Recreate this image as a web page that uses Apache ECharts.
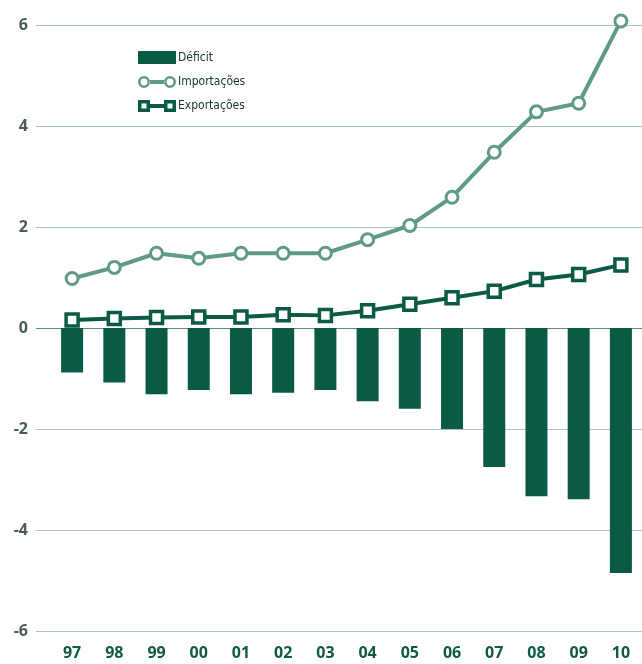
<!DOCTYPE html>
<html><head><meta charset="utf-8">
<script src="https://cdn.jsdelivr.net/npm/echarts@6/dist/echarts.min.js"></script>
<style>html,body{margin:0;padding:0;background:#fff}#c{width:642px;height:664px}</style>
</head><body><div id="c"></div>
<script>
var years = ['97','98','99','00','01','02','03','04','05','06','07','08','09','10'];
var deficit = [-0.88,-1.08,-1.31,-1.23,-1.31,-1.28,-1.23,-1.45,-1.60,-2.00,-2.75,-3.33,-3.39,-4.85];
var importacoes = [0.98,1.20,1.48,1.38,1.48,1.48,1.48,1.75,2.03,2.59,3.48,4.28,4.45,6.08];
var exportacoes = [0.16,0.19,0.21,0.22,0.22,0.26,0.25,0.34,0.47,0.60,0.73,0.96,1.06,1.25];
var yTicks = [-6,-4,-2,0,2,4,6];

var dark = '#0b5a45', teal = '#5f9a88', gridC = '#abc5bd';
var ringPath = 'path://M0,6A6,6 0 1,0 12,6A6,6 0 1,0 0,6ZM2.6,6A3.4,3.4 0 1,1 9.4,6A3.4,3.4 0 1,1 2.6,6ZM26,6A6,6 0 1,0 38,6A6,6 0 1,0 26,6ZM28.6,6A3.4,3.4 0 1,1 35.4,6A3.4,3.4 0 1,1 28.6,6ZM11.5,4L26.5,4L26.5,8L11.5,8Z';
var sqPath = 'path://M0,0L0,12L12,12L12,0ZM3.5,3.5L8.5,3.5L8.5,8.5L3.5,8.5ZM26,0L26,12L38,12L38,0ZM29.5,3.5L34.5,3.5L34.5,8.5L29.5,8.5ZM12,4L26,4L26,8L12,8Z';

var chart = echarts.init(document.getElementById('c'));
chart.setOption({
  animation: false,
  backgroundColor: '#fff',
  grid: [
    {left: 36, right: 0, top: 25, bottom: 33},
    {left: 51, right: -4, top: 25, bottom: 33}
  ],
  legend: {
    orient: 'vertical', left: 133, top: 46,
    itemWidth: 38, itemHeight: 13, itemGap: 12,
    textStyle: {fontFamily: '"Liberation Sans Narrow","DejaVu Sans Condensed",sans-serif', fontSize: 12, color: '#17352c', padding: [0,0,0,-3]},
    data: [
      {name: 'Déficit', icon: 'rect', itemStyle: {color: dark, borderWidth: 0}},
      {name: 'Importações', icon: ringPath, itemStyle: {color: teal, borderWidth: 0}},
      {name: 'Exportações', icon: sqPath, itemStyle: {color: dark, borderWidth: 0}}
    ]
  },
  xAxis: [
    {gridIndex: 0, type: 'value', min: 0, max: 1, show: false},
    {gridIndex: 1, type: 'category', data: years, boundaryGap: true,
     axisLine: {show: false}, axisTick: {show: false}, splitLine: {show: false},
     axisLabel: {margin: 14, fontFamily: '"Open Sans",sans-serif', fontWeight: 'bold', fontSize: 16, color: '#0e5a45'}}
  ],
  yAxis: [
    {gridIndex: 0, type: 'value', min: -6, max: 6, interval: 2,
     axisLine: {show: false}, axisTick: {show: false},
     axisLabel: {margin: 8, fontFamily: '"Open Sans",sans-serif', fontWeight: 'bold', fontSize: 16, color: '#4b5b56'},
     splitLine: {show: true, lineStyle: {width: 1, color: [gridC, gridC, gridC, '#5f8a7e', gridC, gridC, gridC]}}},
    {gridIndex: 1, type: 'value', min: -6, max: 6, interval: 2, show: false, splitLine: {show: false}}
  ],
  series: [
    {name: 'Déficit', type: 'bar', xAxisIndex: 1, yAxisIndex: 1, data: deficit, barWidth: 22,
     itemStyle: {color: dark}},
    {name: 'Importações', type: 'line', xAxisIndex: 1, yAxisIndex: 1, data: importacoes,
     symbol: 'circle', symbolSize: 12, showAllSymbol: true, clip: false,
     lineStyle: {color: teal, width: 4},
     itemStyle: {color: '#fff', borderColor: teal, borderWidth: 3}},
    {name: 'Exportações', type: 'line', xAxisIndex: 1, yAxisIndex: 1, data: exportacoes,
     symbol: 'rect', symbolSize: 12, showAllSymbol: true, clip: false,
     lineStyle: {color: dark, width: 4},
     itemStyle: {color: '#fff', borderColor: dark, borderWidth: 3.5}}
  ]
});
</script></body></html>
